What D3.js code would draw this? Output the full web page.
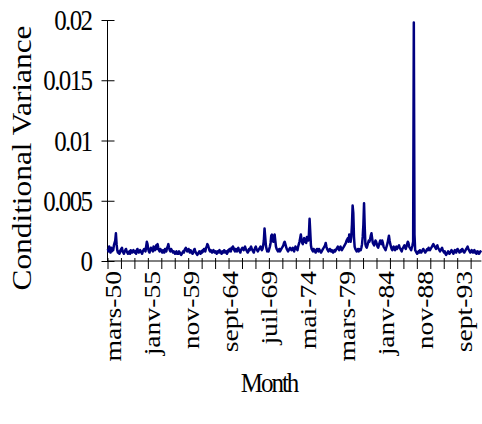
<!DOCTYPE html>
<html>
<head>
<meta charset="utf-8">
<script src="https://cdn.jsdelivr.net/npm/d3@7"></script>
<style>
  body { margin: 0; background: #fff; }
  svg { display: block; }
  text { font-family: "Liberation Serif", "Times New Roman", serif; fill: #000; }
</style>
</head>
<body>
<svg id="chart"></svg>
<script>
// monthly conditional variance, mars-50 onwards, in units of 1e-4
const variance = [
  10,8,12,9,7,11,8,10,9,13,15,17,23,14,9,7,8,6,7,9,
  10,11,8,7,6,8,9,10,8,7,6,7,8,6,9,8,7,8,9,8,
  7,8,6,9,10,8,7,8,9,8,7,6,8,9,10,9,8,12,16,14,
  10,8,7,9,11,10,9,8,12,10,9,11,13,10,14,11,9,8,10,9,
  8,7,9,8,7,10,9,8,11,12,14,11,9,8,10,9,8,7,8,7,
  6,7,8,6,7,6,8,7,6,5,6,7,8,7,9,10,11,9,8,9,
  10,8,7,9,8,7,6,7,9,10,8,7,6,5,6,7,8,7,6,8,
  7,9,8,10,9,8,11,12,14,13,11,9,8,9,8,7,8,9,8,7,
  8,7,6,8,7,8,9,7,8,6,7,8,7,9,8,7,8,6,7,9,
  8,10,9,8,11,10,12,11,9,8,10,9,8,10,11,9,8,7,9,10,
  11,10,9,11,12,10,9,8,7,8,10,9,11,12,10,9,8,7,9,11,
  12,10,9,8,9,10,11,12,10,9,10,13,17,27,20,13,10,8,9,8,
  10,12,15,21,22,18,16,20,22,17,12,10,9,8,9,10,8,9,10,11,
  12,13,15,16,14,12,10,9,8,9,10,11,10,9,10,11,9,8,10,12,
  11,10,9,12,14,16,19,22,18,15,14,17,19,16,18,15,20,19,17,22,
  35,24,13,10,9,8,10,9,8,7,9,10,9,8,10,9,8,7,8,9,
  10,11,12,13,15,12,10,9,8,9,10,9,8,9,8,7,8,9,8,9,
  10,11,12,10,9,11,12,10,9,10,11,12,13,14,15,17,18,19,16,22,
  18,16,20,30,46,40,20,12,10,9,8,9,10,8,9,10,9,11,14,20,
  30,48,28,14,12,11,13,15,17,16,18,21,23,19,15,14,13,15,17,16,
  14,12,11,13,15,17,16,14,17,15,12,11,10,9,11,13,15,18,21,17,
  14,12,10,9,11,12,10,9,11,12,10,11,12,13,11,10,9,8,10,11,
  12,13,11,10,12,14,16,15,12,11,10,9,11,13,16,198,22,9,8,7,
  6,7,8,7,9,8,7,8,9,10,9,8,7,8,9,10,9,11,10,9,
  10,11,12,13,14,13,12,11,10,12,13,11,10,9,8,9,10,11,9,8,
  7,8,6,5,6,7,8,7,6,7,8,9,8,7,6,8,9,8,7,9,
  10,9,8,7,8,9,8,10,9,8,7,8,9,10,11,12,10,9,8,7,
  8,9,8,7,8,9,7,8,6,7,8,7,6,7,8,7
];

const monthLabels = ["mars-50", "janv-55", "nov-59", "sept-64", "juil-69",
                     "mai-74", "mars-79", "janv-84", "nov-88", "sept-93"];
const labelIndex = [0, 58, 116, 174, 232, 290, 348, 406, 464, 522];
const yTicks = [0, 0.005, 0.01, 0.015, 0.02];
const yTickLabels = ["0", "0.005", "0.01", "0.015", "0.02"];
const tickEvery = 20;

const W = 482, H = 424;
const plot = { left: 107.5, right: 481.4, top: 20, bottom: 261 };
const serif = "'Liberation Serif', 'Times New Roman', serif";

const svg = d3.select("#chart").attr("width", W).attr("height", H);

const n = variance.length;
const x = d3.scaleLinear().domain([0, n]).range([plot.left, plot.right]);
const y = d3.scaleLinear().domain([0, 0.02]).range([plot.bottom, plot.top]);

// y axis
const yAxis = svg.append("g")
    .attr("transform", `translate(${plot.left},0)`)
    .call(d3.axisLeft(y).tickValues(yTicks).tickSize(6).tickFormat((d, i) => yTickLabels[i]));
yAxis.attr("font-family", null);
yAxis.select(".domain").attr("d", `M0,${plot.top}V${plot.bottom}`).attr("stroke", "#000");
yAxis.selectAll(".tick line").attr("x1", 7).attr("x2", -6).attr("stroke", "#000");
yAxis.selectAll(".tick text")
    .attr("x", -16)
    .attr("dy", "0.33em")
    .attr("transform", "scale(1,1.18)")
    .style("font-family", serif)
    .style("font-size", "25px")
    .style("letter-spacing", "-1.6px");

// x axis
const tickVals = d3.range(0, n + 1, tickEvery);
const xAxis = svg.append("g")
    .attr("transform", `translate(0,${plot.bottom})`)
    .call(d3.axisBottom(x).tickValues(tickVals).tickSize(8).tickFormat(""));
xAxis.select(".domain").attr("d", `M${plot.left},0H${plot.right}`).attr("stroke", "#000");
xAxis.selectAll(".tick line").attr("y1", -3).attr("y2", 8).attr("stroke", "#000");

svg.append("g")
  .selectAll("text")
  .data(labelIndex)
  .join("text")
    .attr("transform", d => `translate(${x(d + 0.5) + 13},${plot.bottom + 10}) rotate(-90) scale(1.15,1)`)
    .attr("text-anchor", "end")
    .style("font-family", serif)
    .style("font-size", "24px")
    .text((d, i) => monthLabels[i]);

// series
const line = d3.line()
    .x((d, i) => x(i + 0.5))
    .y(d => y(d / 10000));

svg.append("path")
    .datum(variance)
    .attr("fill", "none")
    .attr("stroke", "#000080")
    .attr("stroke-width", 2.5)
    .attr("stroke-linejoin", "round")
    .attr("d", line);

// axis titles
svg.append("text")
    .attr("transform", `translate(31,158) rotate(-90) scale(1.12,1)`)
    .attr("text-anchor", "middle")
    .style("font-family", serif)
    .style("font-size", "28px")
    .text("Conditional Variance");

svg.append("text")
    .attr("transform", `translate(269,392) scale(1,1.12)`)
    .attr("text-anchor", "middle")
    .style("font-family", serif)
    .style("font-size", "25px")
    .style("letter-spacing", "-2px")
    .text("Month");
</script>
</body>
</html>
